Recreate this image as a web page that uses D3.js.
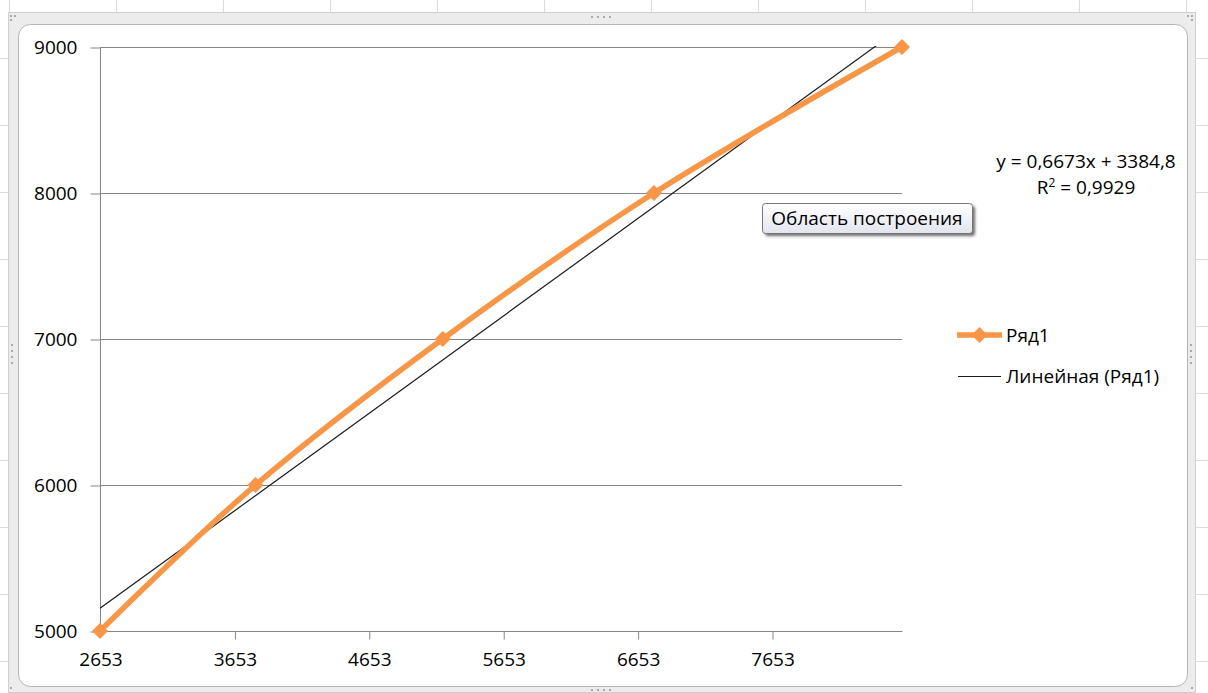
<!DOCTYPE html>
<html>
<head>
<meta charset="utf-8">
<script src="https://cdn.jsdelivr.net/npm/d3@7"></script>
<style>
  body { margin: 0; background: #fff; }
  svg { display: block; }
  text { font-family: "Open Sans", sans-serif; fill: #000; }
</style>
</head>
<body>
<svg id="chart" width="1208" height="693"></svg>
<script>
// Series data
const xValues = [2653, 3810, 5203, 6775, 8620];
const yValues = [5000, 6000, 7000, 8000, 9000];
const xTicks = [2653, 3653, 4653, 5653, 6653, 7653];
const yTicks = [5000, 6000, 7000, 8000, 9000];
const xDomain = [2653, 8620];
const yDomain = [5000, 9000];
const seriesName = "Ряд1";
const trendName = "Линейная (Ряд1)";
const trendSlope = 0.6673;
const trendIntercept = 3384.8;
const rSquared = 0.9929;
const tipText = "Область построения";

const points = xValues.map((x, i) => ({ x, y: yValues[i] }));
const ru = d3.formatLocale({ decimal: ",", thousands: "\u00a0", grouping: [3], currency: ["", ""] });

const svg = d3.select("#chart");
const W = 1208, H = 693;

// ---- spreadsheet backdrop ----
const sheet = svg.append("g");
sheet.append("rect").attr("width", W).attr("height", H).attr("fill", "#ffffff");
d3.range(9, W, 107).forEach(x => sheet.append("line")
  .attr("x1", x + 0.5).attr("x2", x + 0.5).attr("y1", 0).attr("y2", H)
  .attr("stroke", "#dcdcdc"));
d3.range(58, H, 67).forEach(y => sheet.append("line")
  .attr("x1", 0).attr("x2", W).attr("y1", y + 0.5).attr("y2", y + 0.5)
  .attr("stroke", "#dcdcdc"));

// ---- chart frame (selected chart object) ----
const frame = svg.append("g");
frame.append("rect").attr("x", 8.5).attr("y", 12.5).attr("width", 1187).attr("height", 680)
  .attr("fill", "#ececec").attr("stroke", "#cfcfcf");
frame.append("rect").attr("x", 18.5).attr("y", 24.5).attr("width", 1169).attr("height", 662)
  .attr("rx", 12).attr("fill", "#ffffff").attr("stroke", "#b5b5b5");
// grip dots
const dots = [];
d3.range(4).forEach(i => {
  dots.push([592 + i * 6, 17]);
  dots.push([592 + i * 6, 690]);
  dots.push([12, 345 + i * 6]);
  dots.push([1191, 345 + i * 6]);
});
[[11, 16], [15, 16], [11, 20], [1192, 16], [1188, 16], [1192, 20], [11, 688], [1192, 688]].forEach(d => dots.push(d));
frame.selectAll("circle.grip").data(dots).join("circle")
  .attr("class", "grip").attr("cx", d => d[0]).attr("cy", d => d[1]).attr("r", 1.1)
  .attr("fill", "#9a9a9a");

// ---- plot area ----
const plot = { left: 100, right: 902, top: 47, bottom: 631 };
const x = d3.scaleLinear().domain(xDomain).range([plot.left, plot.right]);
const y = d3.scaleLinear().domain(yDomain).range([plot.bottom, plot.top]);

const axisColor = "#868686";

// horizontal gridlines
svg.append("g").selectAll("line").data(yTicks.filter(v => v !== yDomain[0])).join("line")
  .attr("x1", plot.left).attr("x2", plot.right)
  .attr("y1", d => Math.round(y(d)) + 0.5).attr("y2", d => Math.round(y(d)) + 0.5)
  .attr("stroke", axisColor).attr("stroke-width", 1);

// y axis
const yAxis = svg.append("g").attr("transform", `translate(${plot.left + 0.5},0.5)`)
  .call(d3.axisLeft(y).tickValues(yTicks).tickSize(10).tickPadding(13).tickFormat(d3.format("d")));
// x axis
const xAxis = svg.append("g").attr("transform", `translate(0.5,${plot.bottom + 0.5})`)
  .call(d3.axisBottom(x).tickValues(xTicks).tickSize(8).tickPadding(13).tickFormat(d3.format("d")));
xAxis.select(".domain").attr("d", `M${plot.left},0H${plot.right}`);
yAxis.select(".domain").attr("d", `M0,${plot.bottom}V${plot.top}`);
[xAxis, yAxis].forEach(a => {
  a.selectAll(".domain, .tick line").attr("stroke", axisColor);
  a.selectAll("text").attr("font-size", 19).attr("fill", "#000")
    .attr("font-family", "\"Open Sans\", sans-serif");
});
xAxis.selectAll(".tick").filter(d => d === xTicks[0]).select("line").remove();

// clip for trendline
svg.append("clipPath").attr("id", "plotClip").append("rect")
  .attr("x", plot.left).attr("y", plot.top - 1)
  .attr("width", plot.right - plot.left).attr("height", plot.bottom - plot.top + 2);

// linear trendline from the stated equation
const trendX = [xDomain[0], xDomain[1]];
svg.append("path")
  .attr("clip-path", "url(#plotClip)")
  .attr("d", d3.line().x(d => x(d)).y(d => y(trendSlope * d + trendIntercept))(trendX))
  .attr("fill", "none").attr("stroke", "#1a1a1a").attr("stroke-width", 1.2);

// smoothed series line
const orange = "#F79646";
svg.append("path")
  .datum(points)
  .attr("d", d3.line().x(d => x(d.x)).y(d => y(d.y)).curve(d3.curveCatmullRom.alpha(0)))
  .attr("fill", "none").attr("stroke", orange).attr("stroke-width", 5.5)
  .attr("stroke-linejoin", "round");

const diamond = h => `M0,${-h}L${h},0L0,${h}L${-h},0Z`;
svg.append("g").selectAll("path").data(points).join("path")
  .attr("transform", d => `translate(${x(d.x)},${y(d.y)})`)
  .attr("d", diamond(8)).attr("fill", orange);

// trendline equation
const eqSize = 19;
const eq = svg.append("text").attr("x", 1086).attr("y", 168).attr("text-anchor", "middle")
  .attr("font-size", eqSize);
eq.text(`y = ${ru.format(".4f")(trendSlope)}x + ${ru.format(".1f")(trendIntercept)}`);
const r2 = svg.append("text").attr("x", 1086).attr("y", 194).attr("text-anchor", "middle")
  .attr("font-size", eqSize);
r2.append("tspan").text("R");
r2.append("tspan").attr("dy", -7).attr("font-size", 12).text("2");
r2.append("tspan").attr("dy", 7).text(` = ${ru.format(".4f")(rSquared)}`);

// legend
const legend = svg.append("g");
legend.append("line").attr("x1", 957).attr("x2", 1002).attr("y1", 335).attr("y2", 335)
  .attr("stroke", orange).attr("stroke-width", 5.5);
legend.append("path").attr("transform", "translate(979.5,335)").attr("d", diamond(8)).attr("fill", orange);
legend.append("text").attr("x", 1006).attr("y", 342).attr("font-size", eqSize).text(seriesName);
legend.append("line").attr("x1", 958).attr("x2", 1001).attr("y1", 376.5).attr("y2", 376.5)
  .attr("stroke", "#1a1a1a").attr("stroke-width", 1.2);
legend.append("text").attr("x", 1006).attr("y", 383).attr("font-size", eqSize).text(trendName);

// hover tip over the plot area
const defs = svg.append("defs");
const grad = defs.append("linearGradient").attr("id", "tipFill").attr("x1", 0).attr("x2", 0).attr("y1", 0).attr("y2", 1);
grad.append("stop").attr("offset", 0).attr("stop-color", "#ffffff");
grad.append("stop").attr("offset", 1).attr("stop-color", "#e3e5ee");
const blur = defs.append("filter").attr("id", "tipShadow").attr("x", -0.2).attr("y", -0.5).attr("width", 1.4).attr("height", 2);
blur.append("feGaussianBlur").attr("stdDeviation", 1.5);
const tip = svg.append("g").attr("transform", "translate(762,203)");
tip.append("rect").attr("x", 3).attr("y", 3).attr("width", 210).attr("height", 30).attr("rx", 3)
  .attr("fill", "#6a6a6a").attr("filter", "url(#tipShadow)");
tip.append("rect").attr("x", 0.5).attr("y", 0.5).attr("width", 210).attr("height", 30).attr("rx", 3)
  .attr("fill", "url(#tipFill)").attr("stroke", "#767676");
tip.append("text").attr("x", 105).attr("y", 22).attr("text-anchor", "middle")
  .attr("font-size", 19).attr("fill", "#3f3f3f").text(tipText);
</script>
</body>
</html>
